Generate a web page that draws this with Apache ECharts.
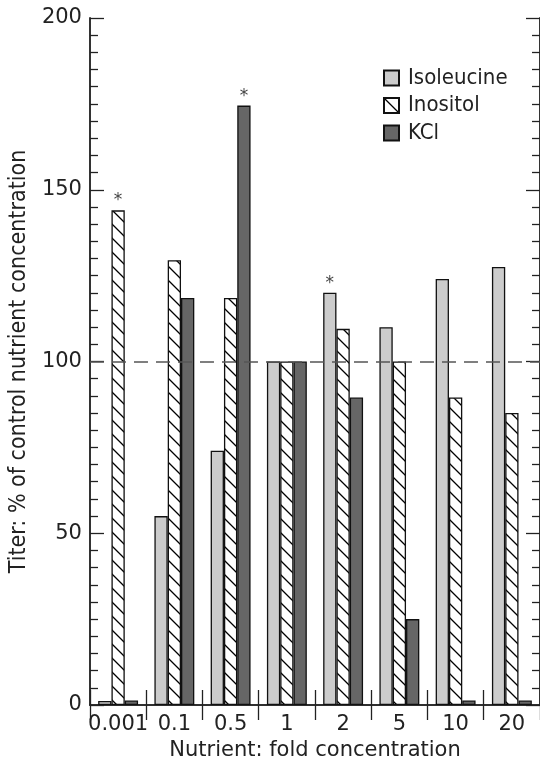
<!DOCTYPE html>
<html>
<head>
<meta charset="utf-8">
<script src="https://cdn.jsdelivr.net/npm/echarts@6/dist/echarts.min.js"></script>
<style>
html,body{margin:0;padding:0;background:#fff;}
#chart{width:540px;height:766px;}
</style>
</head>
<body>
<div id="chart"></div>
<script>
const categories = ['0.001', '0.1', '0.5', '1', '2', '5', '10', '20'];
const seriesNames = ['Isoleucine', 'Inositol', 'KCl'];
const isoleucine = [1.2, 55, 74, 100, 120, 110, 124, 127.5];
const inositol = [144, 129.5, 118.5, 100, 109.5, 100, 89.5, 85];
const kcl = [1.3, 118.5, 174.5, 100, 89.5, 25, 1.3, 1.3];
// indices of bars marked with an asterisk (significant)
const starIsoleucine = [4];
const starInositol = [0];
const starKcl = [2];
const referenceLine = 100;
const yTicks = {min: 0, max: 200, interval: 50};

function hatchCanvas() {
  const s = 14;
  const c = document.createElement('canvas');
  c.width = s; c.height = s;
  const g = c.getContext('2d');
  g.fillStyle = '#fff';
  g.fillRect(0, 0, s, s);
  g.strokeStyle = '#000';
  g.lineWidth = 1.3;
  g.beginPath();
  g.moveTo(-2, -2); g.lineTo(s + 2, s + 2);
  g.moveTo(-2, s - 2); g.lineTo(2, s + 2);
  g.moveTo(s - 2, -2); g.lineTo(s + 2, 2);
  g.stroke();
  return c;
}

const NARROW = '"DejaVu Sans Condensed", "Liberation Sans Narrow", sans-serif';
const TICKFONT = '"DejaVu Sans", sans-serif';

function withStars(values, stars) {
  return values.map((v, i) => stars.includes(i) ? {
    value: v,
    label: {show: true, position: 'top', formatter: '*', distance: 1,
            fontSize: 17, color: '#444', fontFamily: TICKFONT}
  } : v);
}

const chart = echarts.init(document.getElementById('chart'), null, {renderer: 'canvas'});
const hatch = {image: hatchCanvas(), repeat: 'repeat'};
const border = {borderColor: '#111', borderWidth: 1.3};

const xBase = {
  type: 'category', data: categories, boundaryGap: true,
  axisLine: {show: true, lineStyle: {color: '#222', width: 1.5}},
  axisTick: {show: true, inside: true, length: 15, interval: 0, alignWithLabel: false, lineStyle: {color: '#222', width: 1.3}},
  splitLine: {show: false}
};
const yBase = {
  type: 'value', min: yTicks.min, max: yTicks.max, interval: yTicks.interval,
  axisLine: {show: true, lineStyle: {color: '#333', width: 2}},
  axisTick: {show: true, inside: true, length: 14, lineStyle: {color: '#222', width: 1.3}},
  minorTick: {show: true, splitNumber: 10, length: 8, lineStyle: {color: '#222', width: 1.3}},
  splitLine: {show: false}
};

chart.setOption({
  animation: false,
  backgroundColor: '#fff',
  grid: {left: 88, top: 18, width: 453, height: 692, containLabel: false},
  legend: {
    orient: 'vertical', left: 378, top: 62, itemWidth: 15, itemHeight: 15, itemGap: 5.5,
    icon: 'rect',
    data: seriesNames,
    textStyle: {fontFamily: NARROW, fontSize: 22, color: '#222', lineHeight: 22, padding: [0, 0, 0, 4]}
  },
  xAxis: [
    Object.assign({}, xBase, {
      position: 'bottom',
      axisLabel: {show: true, interval: 0, margin: 9, fontFamily: TICKFONT, fontSize: 21, color: '#222'},
      name: 'Nutrient: fold concentration', nameLocation: 'middle', nameGap: 35,
      nameTextStyle: {fontFamily: TICKFONT, fontSize: 21, color: '#222'}
    }),
    Object.assign({}, xBase, {position: 'top', axisLabel: {show: false}})
  ],
  yAxis: [
    Object.assign({}, yBase, {
      position: 'left',
      axisLabel: {show: true, margin: 8, fontFamily: TICKFONT, fontSize: 21, color: '#222'},
      name: 'Titer: % of control nutrient concentration', nameLocation: 'middle', nameGap: 56,
      nameRotate: 90,
      nameTextStyle: {fontFamily: NARROW, fontSize: 23, color: '#222'}
    }),
    Object.assign({}, yBase, {position: 'right', axisLabel: {show: false}})
  ],
  series: [
    {
      name: seriesNames[0], type: 'bar', barWidth: 13.3, barGap: '0%',
      itemStyle: Object.assign({color: '#cccccc'}, border),
      data: withStars(isoleucine, starIsoleucine),
      markLine: {
        silent: true, symbol: ['none', 'none'], label: {show: false},
        lineStyle: {type: [14, 8], color: '#555', width: 1.5},
        data: [{yAxis: referenceLine}]
      }
    },
    {
      name: seriesNames[1], type: 'bar', barWidth: 13.3, barGap: '0%',
      itemStyle: Object.assign({color: hatch}, border),
      data: withStars(inositol, starInositol)
    },
    {
      name: seriesNames[2], type: 'bar', barWidth: 13.3, barGap: '0%',
      itemStyle: Object.assign({color: '#666666'}, border),
      data: withStars(kcl, starKcl)
    }
  ]
});
</script>
</body>
</html>
